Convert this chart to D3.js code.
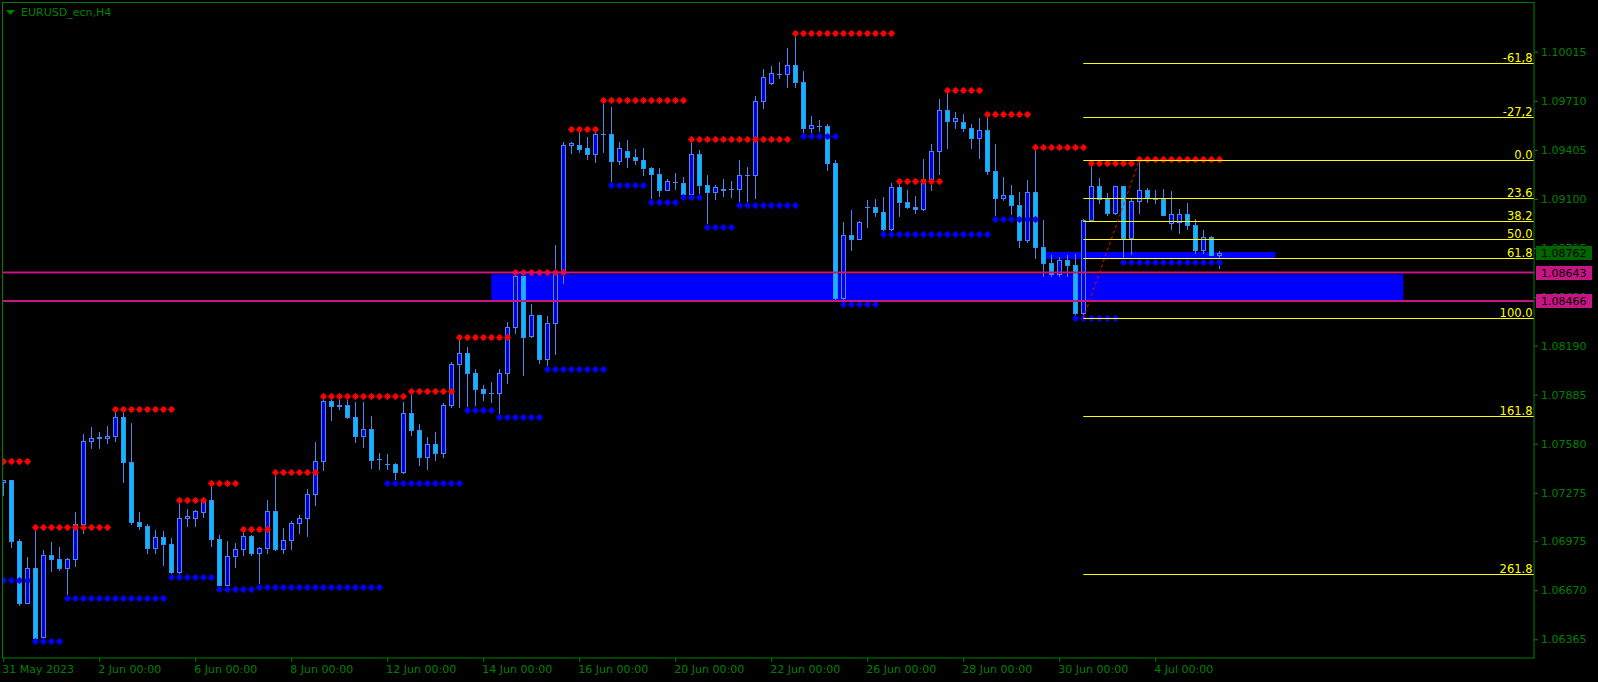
<!DOCTYPE html>
<html><head><meta charset="utf-8">
<script src="https://cdn.jsdelivr.net/npm/d3@7"></script>
<style>html,body{margin:0;padding:0;background:#000;overflow:hidden}svg{display:block}</style>
</head><body>
<svg id="c" width="1598" height="682"></svg>
<script>
// ---------- DATA (EURUSD H4, bar 0 = 31 May 2023 00:00) ----------
const opens = [1.07339,1.07354,1.06977,1.06592,1.06806,1.06377,1.06887,1.06862,1.06810,1.06862,
1.07079,1.07597,1.07617,1.07613,1.07630,1.07744,1.07468,1.07095,1.07071,1.06934,
1.06999,1.06955,1.06785,1.07117,1.07120,1.07158,1.07230,1.06990,1.06702,1.06880,
1.06924,1.07005,1.06903,1.06930,1.07160,1.06928,1.06980,1.07086,1.07117,1.07266,
1.07471,1.07843,1.07816,1.07818,1.07748,1.07630,1.07669,1.07486,1.07452,1.07452,
1.07406,1.07769,1.07665,1.07500,1.07580,1.07520,1.07820,1.08075,1.08141,1.08021,
1.07922,1.07897,1.07897,1.08017,1.08307,1.08622,1.08250,1.08379,1.08108,1.08328,
1.08638,1.09433,1.09433,1.09418,1.09381,1.09506,1.09506,1.09338,1.09398,1.09363,
1.09344,1.09294,1.09257,1.09158,1.09207,1.09200,1.09133,1.09378,1.09189,1.09145,
1.09155,1.09162,1.09160,1.09249,1.09251,1.09707,1.09822,1.09878,1.09878,1.09930,
1.09825,1.09543,1.09555,1.09553,1.09325,1.08487,1.08874,1.08853,1.09050,1.09050,
1.09021,1.08915,1.09173,1.09083,1.09052,1.09040,1.09226,1.09396,1.09651,1.09586,
1.09578,1.09543,1.09481,1.09527,1.09276,1.09108,1.09125,1.09063,1.08845,1.09143,
1.08804,1.08704,1.08632,1.08721,1.08693,1.08390,1.08970,1.09181,1.09098,1.09011,
1.09181,1.08860,1.09088,1.09154,1.09098,1.09098,1.08953,1.08955,1.09007,1.08938,
1.08783,1.08862,1.08754];
const highs = [1.07357,1.07354,1.06986,1.06878,1.07044,1.06920,1.06967,1.06938,1.06868,1.07156,
1.07642,1.07682,1.07653,1.07690,1.07772,1.07772,1.07708,1.07156,1.07081,1.07044,
1.07038,1.06994,1.07230,1.07176,1.07168,1.07246,1.07323,1.07013,1.06974,1.06963,
1.07030,1.07013,1.06938,1.07230,1.07396,1.07056,1.07102,1.07139,1.07298,1.07590,
1.07856,1.07862,1.07851,1.07851,1.07839,1.07839,1.07752,1.07520,1.07516,1.07458,
1.07839,1.07893,1.07700,1.07620,1.07650,1.07831,1.08086,1.08224,1.08181,1.08044,
1.07943,1.07963,1.08044,1.08336,1.08638,1.08638,1.08446,1.08382,1.08375,1.08814,
1.09454,1.09454,1.09508,1.09485,1.09539,1.09704,1.09671,1.09456,1.09466,1.09409,
1.09419,1.09297,1.09291,1.09224,1.09260,1.09237,1.09452,1.09404,1.09249,1.09187,
1.09224,1.09212,1.09342,1.09297,1.09740,1.09906,1.09926,1.09951,1.10038,1.10108,
1.09895,1.09615,1.09591,1.09564,1.09342,1.08957,1.09032,1.08965,1.09094,1.09100,
1.09112,1.09199,1.09199,1.09156,1.09118,1.09348,1.09440,1.09721,1.09765,1.09638,
1.09626,1.09568,1.09605,1.09605,1.09442,1.09237,1.09187,1.09143,1.09218,1.09404,
1.08970,1.08750,1.08742,1.08750,1.08758,1.08976,1.09311,1.09232,1.09139,1.09183,
1.09183,1.09098,1.09340,1.09168,1.09156,1.09162,1.09151,1.09038,1.09077,1.08976,
1.08907,1.08870,1.08777];
const lows = [1.07261,1.06940,1.06580,1.06590,1.06370,1.06373,1.06791,1.06795,1.06630,1.06822,
1.07027,1.07555,1.07555,1.07586,1.07599,1.07344,1.07081,1.07052,1.06903,1.06903,
1.06828,1.06775,1.06775,1.07069,1.07069,1.07126,1.06946,1.06692,1.06696,1.06816,
1.06889,1.06887,1.06702,1.06899,1.06920,1.06903,1.06926,1.07025,1.07008,1.07201,
1.07416,1.07727,1.07794,1.07741,1.07592,1.07561,1.07431,1.07423,1.07423,1.07348,
1.07400,1.07634,1.07450,1.07420,1.07480,1.07500,1.07810,1.07810,1.07803,1.07820,
1.07851,1.07841,1.07758,1.07959,1.08269,1.08007,1.08245,1.08079,1.08048,1.08137,
1.08580,1.09387,1.09392,1.09348,1.09332,1.09394,1.09187,1.09319,1.09300,1.09319,
1.09251,1.09083,1.09120,1.09158,1.09160,1.09110,1.09129,1.09114,1.08938,1.09098,
1.09118,1.09110,1.09073,1.09073,1.09104,1.09667,1.09816,1.09850,1.09797,1.09797,
1.09497,1.09485,1.09522,1.09282,1.08481,1.08473,1.08783,1.08851,1.08928,1.08994,
1.08897,1.08901,1.08996,1.09042,1.09013,1.09033,1.09156,1.09255,1.09419,1.09543,
1.09522,1.09419,1.09356,1.09255,1.08984,1.09094,1.09007,1.08804,1.08835,1.08732,
1.08622,1.08622,1.08622,1.08622,1.08373,1.08359,1.08965,1.09077,1.09002,1.09007,
1.08725,1.08758,1.09015,1.09081,1.09077,1.08999,1.08912,1.08891,1.08915,1.08766,
1.08766,1.08750,1.08673];
const closes = [1.07354,1.06977,1.06592,1.06806,1.06373,1.06887,1.06862,1.06810,1.06862,1.07079,
1.07597,1.07613,1.07620,1.07628,1.07744,1.07468,1.07095,1.07071,1.06934,1.06999,
1.06955,1.06785,1.07117,1.07131,1.07160,1.07230,1.06990,1.06702,1.06880,1.06924,
1.07005,1.06903,1.06930,1.07160,1.06928,1.06980,1.07086,1.07117,1.07266,1.07471,
1.07843,1.07816,1.07818,1.07748,1.07630,1.07669,1.07480,1.07486,1.07452,1.07406,
1.07769,1.07665,1.07500,1.07580,1.07520,1.07820,1.08075,1.08141,1.08021,1.07922,
1.07897,1.07897,1.08017,1.08307,1.08622,1.08245,1.08379,1.08108,1.08328,1.08638,
1.09433,1.09446,1.09412,1.09381,1.09502,1.09506,1.09338,1.09415,1.09363,1.09344,
1.09294,1.09257,1.09158,1.09212,1.09207,1.09133,1.09378,1.09189,1.09145,1.09173,
1.09162,1.09162,1.09247,1.09249,1.09707,1.09856,1.09881,1.09878,1.09930,1.09825,
1.09543,1.09560,1.09555,1.09325,1.08487,1.08874,1.08853,1.08957,1.09050,1.09021,
1.08915,1.09173,1.09083,1.09052,1.09040,1.09226,1.09396,1.09651,1.09586,1.09603,
1.09543,1.09481,1.09527,1.09276,1.09108,1.09125,1.09063,1.08845,1.09143,1.08804,
1.08704,1.08632,1.08721,1.08693,1.08390,1.08970,1.09181,1.09098,1.09011,1.09181,
1.08860,1.09088,1.09154,1.09110,1.09098,1.09002,1.09007,1.09007,1.08938,1.08783,
1.08862,1.08754,1.08762];

// resistance (red) / support (blue) dot runs: [firstBar, lastBar, price]
const resistanceRuns = [[0,3,1.07472],[4,13,1.07061],[14,21,1.07794],[22,25,1.07230],[26,29,1.07334],
[30,33,1.07048],[34,39,1.07402],[40,50,1.07874],[51,56,1.07907],[57,63,1.08243],[64,70,1.08645],
[71,74,1.09535],[75,85,1.09713],[86,98,1.09471],[99,111,1.10131],[112,117,1.09210],[118,122,1.09775],
[123,128,1.09626],[129,135,1.09421],[136,141,1.09322],[142,152,1.09348]];
const supportRuns = [[0,3,1.06731],[4,7,1.06352],[8,20,1.06620],[21,26,1.06750],[27,31,1.06675],
[32,47,1.06688],[48,57,1.07334],[58,61,1.07787],[62,67,1.07746],[68,75,1.08044],[76,80,1.09185],
[81,84,1.09079],[85,87,1.09110],[88,91,1.08924],[92,99,1.09061],[100,104,1.09489],[105,109,1.08446],
[110,123,1.08881],[124,129,1.08974],[134,139,1.08359],[140,152,1.08707]];

const priceTicks = [1.10015,1.09710,1.09405,1.09100,1.08795,1.08490,1.08190,1.07885,1.07580,1.07275,1.06975,1.06670,1.06365];
const dateTickBars = [0,12,24,36,48,60,72,84,96,108,120,132,144];
const dateTickLabels = ["31 May 2023","2 Jun 00:00","6 Jun 00:00","8 Jun 00:00","12 Jun 00:00","14 Jun 00:00","16 Jun 00:00","20 Jun 00:00","22 Jun 00:00","26 Jun 00:00","28 Jun 00:00","30 Jun 00:00","4 Jul 00:00"];

const hLinePrices = [1.08643, 1.08466];
const zoneBars = [61, 175];
const zonePrices = [1.08632, 1.08468];
const thinRectBars = [130.3, 159];
const thinRectPrices = [1.08771, 1.08727];

const fibBars = [135, 142];
const fibPrices = [1.08359, 1.09340]; // low (100) , high (0)
const fibLevels = [-61.8,-27.2,0,23.6,38.2,50,61.8,100,161.8,261.8];
const fibLabels = ["-61,8","-27,2","0.0","23.6","38.2","50.0","61.8","100.0","161.8","261.8"];

const lastPrice = 1.08762;
const title = "EURUSD_ecn,H4";

// ---------- DRAW ----------
const svg = d3.select('#c');
const GREEN = '#008000', FONT = '"DejaVu Sans", sans-serif';
const plot = {l:2.5, t:2.5, r:1534, b:658};
svg.append('rect').attr('width',1598).attr('height',682).attr('fill','#000');

const x = d3.scaleLinear().domain([0,191]).range([3.3, 3.3+8*191]);
const y = d3.scaleLinear().domain([1.06365,1.10015]).range([639.3,51.7]);

svg.append('clipPath').attr('id','clip').append('rect')
  .attr('x',plot.l+0.5).attr('y',plot.t+0.5).attr('width',plot.r-plot.l-1).attr('height',plot.b-plot.t-1);
const g = svg.append('g').attr('clip-path','url(#clip)');

// zone rectangles
g.append('rect').attr('x',x(zoneBars[0])).attr('width',x(zoneBars[1])-x(zoneBars[0]))
  .attr('y',y(zonePrices[0])).attr('height',y(zonePrices[1])-y(zonePrices[0])).attr('fill','#0000ff');
g.append('rect').attr('x',x(thinRectBars[0])).attr('width',x(thinRectBars[1])-x(thinRectBars[0]))
  .attr('y',y(thinRectPrices[0])).attr('height',y(thinRectPrices[1])-y(thinRectPrices[0])).attr('fill','#0000ff');

// candles
const idx = d3.range(opens.length);
const WICK = '#4a86ee';
const cg = g.append('g');
idx.forEach(i=>{
  const cx = Math.round(x(i));
  cg.append('line').attr('x1',cx+0.5).attr('x2',cx+0.5)
    .attr('y1',Math.round(y(highs[i]))).attr('y2',Math.round(y(lows[i]))+1)
    .attr('stroke',WICK).attr('stroke-width',1);
  const yo = Math.round(y(opens[i])), yc = Math.round(y(closes[i]));
  const top = Math.min(yo,yc), bot = Math.max(yo,yc);
  const bull = closes[i] >= opens[i];
  if (bot - top < 1) {
    cg.append('line').attr('x1',cx-2).attr('x2',cx+3).attr('y1',top+0.5).attr('y2',top+0.5)
      .attr('stroke',WICK).attr('stroke-width',1);
  } else {
    cg.append('rect').attr('x',cx-1.5).attr('width',4).attr('y',top+0.5).attr('height',bot-top)
      .attr('fill', bull ? '#0000d8' : '#00bfff').attr('stroke',WICK).attr('stroke-width',1);
  }
});

// horizontal magenta lines
hLinePrices.forEach(p=>{
  svg.append('line').attr('x1',plot.l).attr('x2',plot.r).attr('y1',y(p)).attr('y2',y(p))
    .attr('stroke','#c71585').attr('stroke-width',2);
});

// fibonacci
const fibRange = fibPrices[1]-fibPrices[0];
const fg = svg.append('g');
fibLevels.forEach((lv,k)=>{
  const p = fibPrices[1] - lv/100*fibRange;
  const yy = Math.round(y(p))+0.5;
  fg.append('line').attr('x1',x(fibBars[0])).attr('x2',plot.r).attr('y1',yy).attr('y2',yy)
    .attr('stroke','#ffff00').attr('stroke-width',1);
  fg.append('text').attr('x',plot.r-1.5).attr('y',yy-2).attr('text-anchor','end')
    .attr('font-family',FONT).attr('font-size',11.5).attr('fill','#ffff00').text(fibLabels[k]);
});

// dots
const dotPath = 'M0,-3.8L1.8,-1.8L3.6,0L1.8,1.8L0,3.8L-1.8,1.8L-3.6,0L-1.8,-1.8Z M-2.2,-2.2h4.4v4.4h-4.4Z';
function drawRuns(runs, color){
  runs.forEach(r=>{
    d3.range(r[0], r[1]+1).forEach(i=>{
      g.append('path').attr('d',dotPath).attr('fill',color)
        .attr('transform',`translate(${Math.round(x(i))+0.5},${Math.round(y(r[2]))+0.5})`);
    });
  });
}
drawRuns(resistanceRuns,'#ff0000');
drawRuns(supportRuns,'#0000ff');

// fib trend line
svg.append('line').attr('x1',x(fibBars[0])).attr('y1',y(fibPrices[0]))
  .attr('x2',x(fibBars[1])).attr('y2',y(fibPrices[1]))
  .attr('stroke','#ff0000').attr('stroke-width',1).attr('stroke-dasharray','3,3');

// border
svg.append('rect').attr('x',plot.l).attr('y',plot.t).attr('width',plot.r-plot.l).attr('height',plot.b-plot.t)
  .attr('fill','none').attr('stroke',GREEN).attr('stroke-width',1);

// price axis
const ya = svg.append('g').attr('transform',`translate(${plot.r},0)`)
  .call(d3.axisRight(y).tickValues(priceTicks).tickFormat(d3.format('.5f')).tickSize(4).tickPadding(3));
ya.select('.domain').remove();
ya.selectAll('line').attr('stroke',GREEN);
ya.selectAll('text').attr('fill',GREEN).attr('font-family',FONT).attr('font-size',11);

// date axis
const xa = svg.append('g').attr('transform',`translate(0,${plot.b})`)
  .call(d3.axisBottom(x).tickValues(dateTickBars).tickFormat((d,i)=>dateTickLabels[i]).tickSize(4).tickPadding(3));
xa.select('.domain').remove();
xa.selectAll('line').attr('stroke',GREEN);
xa.selectAll('text').attr('fill',GREEN).attr('font-family',FONT).attr('font-size',11)
  .attr('text-anchor','start').attr('dx',-1.5);

// price label boxes
function priceBox(p, color){
  const yy = y(p);
  svg.append('rect').attr('x',plot.r+2).attr('y',Math.round(yy)-7).attr('width',56).attr('height',14).attr('fill',color);
  svg.append('text').attr('x',plot.r+7).attr('y',yy).attr('dy','0.36em')
    .attr('font-family',FONT).attr('font-size',11).attr('fill','#000').text(d3.format('.5f')(p));
}
priceBox(lastPrice,'#006400');
hLinePrices.forEach(p=>priceBox(p,'#c71585'));

// title
svg.append('path').attr('d','M6,10L15,10L10.5,15Z').attr('fill',GREEN);
svg.append('text').attr('x',21).attr('y',16).attr('font-family',FONT).attr('font-size',11)
  .attr('fill',GREEN).text(title);
</script>
</body></html>
